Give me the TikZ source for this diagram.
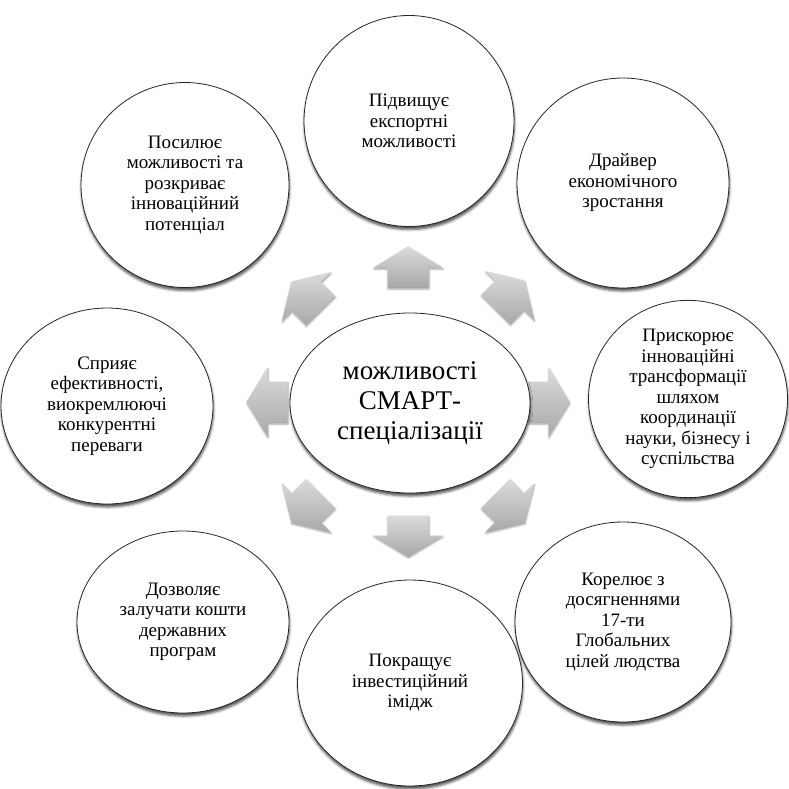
\documentclass[tikz,border=0pt]{standalone}
\usepackage{fontspec}
\setmainfont{Liberation Serif}
\usetikzlibrary{shapes.geometric,shadows.blur}
\begin{document}
\begin{tikzpicture}[x=1pt,y=-1pt,
  bub/.style={ellipse, draw=black!85, line width=0.8pt, fill=white, inner sep=0pt,
    align=center, font=\fontsize{19}{20.5}\selectfont,
    blur shadow={shadow xshift=0.5pt, shadow yshift=-3pt, shadow blur radius=2.5pt, shadow opacity=70}},
  hub/.style={bub, font=\fontsize{27}{30}\selectfont},
  arrfill/.style={top color=black!14, bottom color=black!34,
    blur shadow={shadow xshift=0.5pt, shadow yshift=-1.5pt, shadow blur radius=2pt, shadow opacity=40}},
  blockarrow/.pic={
    \path[arrfill] (0,-20.5) -- (34.5,0.5) -- (20.5,0.5) -- (20.5,20.5)
      -- (-20.5,20.5) -- (-20.5,0.5) -- (-34.5,0.5) -- cycle;
  }]
\useasboundingbox (0,0) rectangle (788,789);
% outer bubbles
\node[bub, minimum width=210pt, minimum height=211pt] (top) at (409,121)
  {Підвищує\\експортні\\можливості};
\node[bub, minimum width=208pt, minimum height=205pt] (tl) at (185,185)
  {Посилює\\можливості та\\розкриває\\інноваційний\\потенціал};
\node[bub, minimum width=212pt, minimum height=210pt] (tr) at (623,183)
  {Драйвер\\економічного\\зростання};
\node[bub, minimum width=212pt, minimum height=196pt] (left) at (107,406)
  {Сприяє\\ефективності,\\виокремлюючі\\конкурентні\\переваги};
\node[bub, minimum width=199pt, minimum height=197pt] (right) at (688,399)
  {Прискорює\\інноваційні\\трансформації\\шляхом\\координації\\науки, бізнесу і\\суспільства};
\node[bub, minimum width=212pt, minimum height=182pt] (bl) at (183,622)
  {Дозволяє\\залучати кошти\\державних\\програм};
\node[bub, minimum width=216pt, minimum height=200pt] (br) at (623,622)
  {Корелює з\\досягненнями\\17-ти\\Глобальних\\цілей людства};
\node[bub, minimum width=225pt, minimum height=206pt] (bot) at (410,683)
  {Покращує\\інвестиційний\\імідж};
% arrows
\pic[rotate=0]    at (408,267) {blockarrow};
\pic[rotate=-45]  at (510,295) {blockarrow};
\pic[rotate=-90]  at (549,402) {blockarrow};
\pic[rotate=-135] at (510,508) {blockarrow};
\pic[rotate=180]  at (408,536) {blockarrow};
\pic[rotate=135]  at (306,508) {blockarrow};
\pic[rotate=90]   at (267,402) {blockarrow};
\pic[rotate=45]   at (306,296) {blockarrow};
% hub
\node[hub, minimum width=240pt, minimum height=180pt] (hub) at (410,403)
  {можливості\\СМАРТ-\\спеціалізації};
\end{tikzpicture}
\end{document}
